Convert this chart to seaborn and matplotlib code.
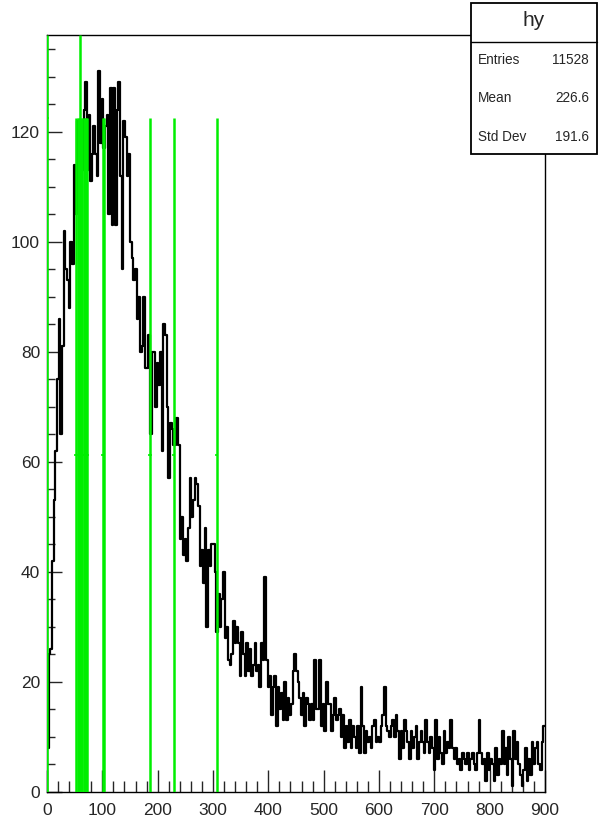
import numpy as np
import pandas as pd
import matplotlib
matplotlib.use("Agg")
import matplotlib.pyplot as plt
from matplotlib.patches import Rectangle
from matplotlib.lines import Line2D
from matplotlib.ticker import MultipleLocator
import seaborn as sns

# histogram "hy": 300 bins of width 3 over [0, 900)
bin_edges_lo = 0
bin_edges_hi = 900
n_bins = 300
counts = [
    8, 25, 26, 42, 53, 62, 75, 86, 65, 81,
    102, 95, 93, 88, 100, 96, 114, 105, 122, 118,
    120, 113, 124, 129, 113, 123, 111, 116, 121, 116,
    112, 131, 118, 126, 117, 121, 123, 105, 128, 103,
    128, 103, 124, 129, 112, 95, 122, 119, 112, 116,
    100, 97, 93, 95, 86, 90, 80, 81, 90, 77,
    77, 83, 65, 80, 80, 70, 78, 74, 80, 62,
    85, 83, 70, 57, 67, 66, 63, 63, 68, 63,
    46, 50, 43, 46, 42, 48, 57, 50, 53, 57,
    56, 52, 41, 44, 38, 48, 30, 44, 41, 45,
    45, 40, 29, 36, 30, 35, 40, 28, 30, 24,
    23, 25, 31, 27, 30, 27, 21, 29, 25, 21,
    27, 22, 26, 21, 23, 27, 22, 23, 19, 27,
    24, 39, 24, 19, 21, 14, 19, 21, 12, 19,
    15, 18, 13, 20, 13, 17, 14, 16, 22, 25,
    22, 20, 17, 14, 18, 12, 17, 16, 13, 16,
    13, 24, 15, 15, 24, 12, 16, 11, 20, 16,
    16, 11, 14, 17, 13, 14, 15, 10, 14, 8,
    12, 9, 13, 8, 12, 10, 8, 12, 7, 19,
    12, 7, 11, 9, 10, 8, 12, 13, 9, 10,
    9, 12, 14, 19, 12, 11, 10, 12, 13, 10,
    14, 11, 6, 11, 8, 13, 11, 9, 6, 11,
    8, 10, 12, 6, 9, 11, 9, 7, 13, 9,
    7, 10, 8, 4, 13, 6, 10, 7, 5, 11,
    7, 9, 8, 13, 8, 6, 8, 5, 6, 4,
    7, 6, 5, 7, 4, 6, 7, 5, 4, 7,
    13, 7, 5, 6, 2, 7, 4, 6, 5, 2,
    8, 3, 6, 5, 11, 5, 8, 3, 10, 6,
    1, 11, 6, 9, 5, 3, 1, 4, 8, 2,
    6, 3, 9, 5, 8, 9, 5, 4, 9, 12,
]

# green marker lines: positions and heights
marker_x = [52, 56, 58.5, 61, 63.5, 66, 68.5, 71, 73, 100.5, 102.5, 186, 229, 306.5]
marker_height = 122.5
full_x = [0, 60]

stats_title = "hy"
stats_labels = ["Entries", "Mean", "Std Dev"]
stats_values = ["11528", "226.6", "191.6"]

x_ticks = [0, 100, 200, 300, 400, 500, 600, 700, 800, 900]
y_ticks = [0, 20, 40, 60, 80, 100, 120]

sns.set_style("white")
plt.rcParams["font.family"] = ["Liberation Sans", "DejaVu Sans"]

width = (bin_edges_hi - bin_edges_lo) / n_bins
df = pd.DataFrame({
    "x": bin_edges_lo + width * (np.arange(n_bins) + 0.5),
    "w": counts,
})

fig = plt.figure(figsize=(6.06, 8.30), dpi=100)
ax = fig.add_axes([47 / 606, 1 - 792 / 830, (545 - 47) / 606, (792 - 35) / 830])

sns.histplot(data=df, x="x", weights="w", bins=n_bins,
             binrange=(bin_edges_lo, bin_edges_hi), element="step",
             fill=False, color="black", linewidth=1.6, ax=ax, zorder=2)

ymax = 137.6
green = "#00ee00"
ax.vlines(marker_x, 0, marker_height, color=green, linewidth=1.8, zorder=3)
ax.hlines([marker_height / 2] * len(marker_x), [v - 3 for v in marker_x],
          [v + 3 for v in marker_x], color=green, linewidth=1.2, zorder=3)
ax.vlines(full_x, 0, ymax, color=green, linewidth=1.8, zorder=3)
ax.hlines([marker_height], [0], [4], color=green, linewidth=1.2, zorder=3)

ax.set_xlim(bin_edges_lo, bin_edges_hi)
ax.set_ylim(0, ymax)
ax.set_xlabel("")
ax.set_ylabel("")

ax.set_xticks(x_ticks)
ax.set_yticks(y_ticks)
ax.set_xticklabels([str(t) for t in x_ticks])
ax.set_yticklabels([str(t) for t in y_ticks])
ax.xaxis.set_minor_locator(MultipleLocator(20))
ax.yaxis.set_minor_locator(MultipleLocator(5))
ax.tick_params(axis="x", which="major", direction="in", length=15.8, width=1.0,
               labelsize=12.5, pad=8, bottom=True, top=False)
ax.tick_params(axis="x", which="minor", direction="in", length=7.9, width=1.0,
               bottom=True, top=False)
ax.tick_params(axis="y", which="major", direction="in", length=10.8, width=1.0,
               labelsize=12.5, pad=5, left=True, right=False)
ax.tick_params(axis="y", which="minor", direction="in", length=5.8, width=1.0,
               left=True, right=False)
for side in ["left", "right", "top", "bottom"]:
    ax.spines[side].set_visible(True)
    ax.spines[side].set_color("black")
    ax.spines[side].set_linewidth(1.0)
ax.set_facecolor("white")
ax.grid(False)

# statistics box
bx0, bx1 = 471 / 606, 597 / 606
by0, by1 = 1 - 154 / 830, 1 - 3 / 830
sep_y = 1 - 42 / 830
fig.add_artist(Rectangle((bx0, by0), bx1 - bx0, by1 - by0, transform=fig.transFigure,
                         facecolor="white", edgecolor="black", linewidth=1.3, zorder=10))
fig.add_artist(Line2D([bx0, bx1], [sep_y, sep_y], transform=fig.transFigure,
                      color="black", linewidth=1.0, zorder=11))
fig.text((bx0 + bx1) / 2, 1 - 21 / 830, stats_title, ha="center", va="center",
         fontsize=15, zorder=12)
row_y = [60, 98, 137]
for lab, val, py in zip(stats_labels, stats_values, row_y):
    fig.text(478 / 606, 1 - py / 830, lab, ha="left", va="center", fontsize=9.8, zorder=12)
    fig.text(589 / 606, 1 - py / 830, val, ha="right", va="center", fontsize=9.8, zorder=12)

fig.savefig("out.png", dpi=100, facecolor="white")
